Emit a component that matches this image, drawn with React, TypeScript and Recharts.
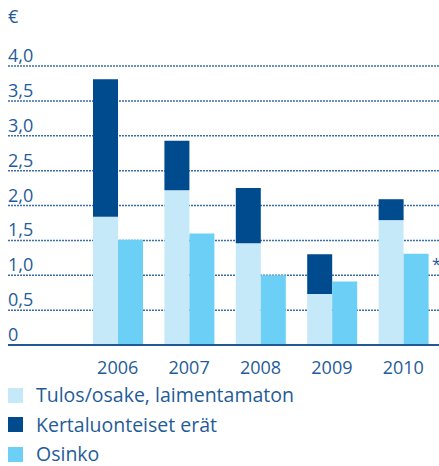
import React from 'react';
import { BarChart, Bar, XAxis, YAxis, CartesianGrid, Rectangle } from 'recharts';

const years = ['2006', '2007', '2008', '2009', '2010'];
const tulosOsake = [1.84, 2.22, 1.46, 0.73, 1.79];
const kertaluonteiset = [1.97, 0.71, 0.79, 0.57, 0.30];
const osinko = [1.51, 1.6, 1.0, 0.91, 1.31];
const yTicks = [0, 0.5, 1.0, 1.5, 2.0, 2.5, 3.0, 3.5, 4.0];
const yTickLabels = ['0', '0,5', '1,0', '1,5', '2,0', '2,5', '3,0', '3,5', '4,0'];
const seriesNames = ['Tulos/osake, laimentamaton', 'Kertaluonteiset erät', 'Osinko'];
const footnoteMark = '*';
const footnoteYear = '2010';
const unitLabel = '€';

const COLORS = ['#c6e9f9', '#004a8e', '#6bcff6'];
const TEXT = '#1f5c99';
const FONT = '"Open Sans", sans-serif';
const BAR_SIZE = 25;
const LEFT = 8;

const data = years.map((y, i) => ({
  year: y,
  tulos: tulosOsake[i],
  kerta: kertaluonteiset[i],
  osinko: osinko[i],
}));

const YTick = (props: any) => {
  const idx = yTicks.indexOf(props.payload.value);
  return (
    <text x={LEFT} y={props.y - 4} textAnchor="start" fontSize={18} fill={TEXT} fontFamily={FONT}>
      {yTickLabels[idx]}
    </text>
  );
};

const XTick = (props: any) => (
  <text x={props.x} y={props.y + 29} textAnchor="middle" fontSize={18} fill={TEXT} fontFamily={FONT}>
    {props.payload.value}
  </text>
);

const OsinkoShape = (props: any) => {
  const year = props.payload?.year ?? props.year;
  const showMark = year === footnoteYear;
  return (
    <g>
      <Rectangle x={props.x} y={props.y} width={props.width} height={props.height} fill={props.fill} />
      {showMark && (
        <text
          x={props.x + props.width + 3.5}
          y={props.y + 16}
          fontSize={16}
          fill={TEXT}
          fontFamily={FONT}
        >
          {footnoteMark}
        </text>
      )}
    </g>
  );
};

export default function App() {
  return (
    <div style={{ position: 'relative', width: 439, height: 466 }}>
      <style>{'body{margin:0;}'}</style>
      <span
        style={{
          position: 'absolute',
          left: LEFT,
          top: 7,
          fontFamily: FONT,
          fontSize: 18,
          lineHeight: '18px',
          color: TEXT,
        }}
      >
        {unitLabel}
      </span>
      <BarChart
        width={439}
        height={466}
        data={data}
        margin={{ top: 66, right: 0, bottom: 91, left: LEFT - 1 }}
        barGap={0}
        barSize={BAR_SIZE}
      >
        <CartesianGrid
          horizontal
          vertical={false}
          stroke="#3a6ea8"
          strokeWidth={1.5}
          strokeDasharray="2 1"
        />
        <XAxis
          dataKey="year"
          height={30}
          padding={{ left: 74, right: 0 }}
          tickLine={false}
          tickSize={0}
          tickMargin={0}
          axisLine={{ stroke: '#1f5a95', strokeWidth: 2 }}
          tick={<XTick />}
          interval={0}
        />
        <YAxis
          width={1}
          domain={[0, 4]}
          ticks={yTicks}
          interval={0}
          axisLine={false}
          tickLine={false}
          tick={<YTick />}
        />
        <Bar dataKey="tulos" stackId="a" fill={COLORS[0]} isAnimationActive={false} />
        <Bar dataKey="kerta" stackId="a" fill={COLORS[1]} isAnimationActive={false} />
        <Bar
          dataKey="osinko"
          fill={COLORS[2]}
          isAnimationActive={false}
          shape={(p: any) => <OsinkoShape {...p} />}
        />
      </BarChart>
      <div style={{ position: 'absolute', left: LEFT, top: 385 }}>
        {seriesNames.map((name, i) => (
          <div
            key={name}
            style={{ display: 'flex', alignItems: 'center', height: 20, marginBottom: i < seriesNames.length - 1 ? 9.5 : 0 }}
          >
            <div style={{ width: 15, height: 15, background: COLORS[i], marginRight: 13 }} />
            <span style={{ fontFamily: FONT, fontSize: 19.5, color: TEXT, lineHeight: '20px' }}>{name}</span>
          </div>
        ))}
      </div>
    </div>
  );
}
